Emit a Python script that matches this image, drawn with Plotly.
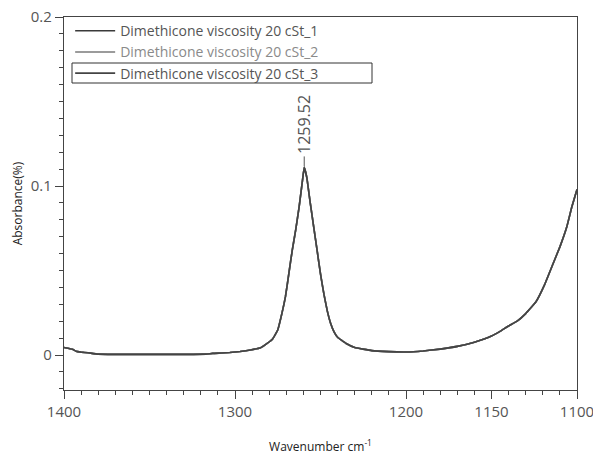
import plotly.graph_objects as go

# ---- data ----
wavenumber = [1400, 1397, 1395, 1393, 1390, 1386, 1380, 1370, 1350, 1330, 1317, 1313, 1308,
              1303, 1297, 1291, 1285, 1281, 1278, 1275, 1272.5, 1270.5, 1268.5, 1266.5,
              1264.5, 1262.5, 1260.5, 1259.52, 1258, 1256, 1254, 1252, 1250, 1248, 1246,
              1244, 1242, 1240, 1235, 1230, 1220, 1210, 1200, 1190, 1180, 1170, 1160, 1150,
              1145, 1140, 1135, 1130, 1124, 1119, 1114, 1110, 1106, 1103, 1100]
absorbance_1 = [0.0045, 0.0038, 0.0034, 0.0022, 0.0017, 0.0013, 0.0005, 0.0004, 0.0004, 0.0004,
                0.0005, 0.0010, 0.0012, 0.0015, 0.0021, 0.0030, 0.0043, 0.0070, 0.0095, 0.0148,
                0.0249, 0.0345, 0.0483, 0.0621, 0.0740, 0.0877, 0.1036, 0.1110, 0.1050, 0.0900,
                0.0760, 0.0620, 0.0480, 0.0360, 0.0260, 0.0185, 0.0135, 0.0105, 0.0068, 0.0045,
                0.0026, 0.0020, 0.0018, 0.0024, 0.0035, 0.0051, 0.0076, 0.0112, 0.0140, 0.0172,
                0.0200, 0.0245, 0.0315, 0.0415, 0.0540, 0.0640, 0.0757, 0.0877, 0.0980]
absorbance_2 = list(absorbance_1)
absorbance_3 = list(absorbance_1)

series_names = ["Dimethicone viscosity 20 cSt_1",
                "Dimethicone viscosity 20 cSt_2",
                "Dimethicone viscosity 20 cSt_3"]
peak_wavenumber = 1259.52
peak_absorbance = 0.1110
peak_label = "1259.52"

x_tickvals = [1400, 1300, 1200, 1150, 1100]
x_ticktext = ["1400", "1300", "1200", "1150", "1100"]
y_tickvals = [0, 0.1, 0.2]
y_ticktext = ["0", "0.1", "0.2"]

FONT = "Open Sans"
line_colors = ["#3a3a3a", "#7a7a7a", "#444444"]
legend_names = [series_names[0],
                "<span style='color:#8a8a8a'>" + series_names[1] + "</span>",
                series_names[2]]

fig = go.Figure()
for ys, c, nm in zip([absorbance_1, absorbance_2, absorbance_3], line_colors, legend_names):
    fig.add_trace(go.Scatter(x=wavenumber, y=ys, mode="lines", name=nm,
                             line=dict(color=c, width=1.6, shape="spline", smoothing=0.3)))

# peak marker line + label
fig.add_shape(type="line", xref="x", yref="y", x0=peak_wavenumber, x1=peak_wavenumber,
              y0=peak_absorbance + 0.0005, y1=peak_absorbance + 0.0065,
              line=dict(color="#555", width=1))
fig.add_annotation(x=peak_wavenumber, y=peak_absorbance + 0.0066, xref="x", yref="y",
                   text=peak_label, textangle=-90, showarrow=False,
                   yanchor="bottom", xanchor="center",
                   font=dict(family=FONT, size=16, color="#555"))

# box around third legend entry
fig.add_shape(type="rect", xref="paper", yref="paper",
              x0=(72 - 64) / 513, x1=(372 - 64) / 513,
              y0=(390 - 83) / 373, y1=(390 - 63) / 373,
              line=dict(color="#333", width=1))

fig.update_layout(
    width=593, height=455,
    margin=dict(l=64, r=16, t=17, b=65, autoexpand=False),
    paper_bgcolor="white", plot_bgcolor="white",
    font=dict(family=FONT, color="#555"),
    showlegend=True,
    legend=dict(x=0.012, y=1.005, xanchor="left", yanchor="top",
                bgcolor="rgba(0,0,0,0)", borderwidth=0,
                font=dict(family=FONT, size=14, color="#555"),
                tracegroupgap=0, itemwidth=40),
)
fig.update_xaxes(
    range=[1400, 1100], showgrid=False, zeroline=False, automargin=False,
    showline=True, linecolor="#444", linewidth=1.2, mirror=True,
    ticks="outside", ticklen=8, tickcolor="#444",
    tickvals=x_tickvals, ticktext=x_ticktext, ticklabeloverflow="allow",
    tickfont=dict(family=FONT, size=15, color="#555"),
    minor=dict(dtick=10, tick0=1100, ticks="outside", ticklen=4, tickcolor="#444"),
    title=dict(text="Wavenumber cm<sup>-1</sup>", font=dict(family=FONT, size=12, color="#222"),
               standoff=22),
)
fig.update_yaxes(
    range=[-0.0207, 0.2], showgrid=False, zeroline=False, automargin=False,
    showline=True, linecolor="#444", linewidth=1.2, mirror=True,
    ticks="outside", ticklen=8, tickcolor="#444",
    tickvals=y_tickvals, ticktext=y_ticktext, ticklabeloverflow="allow",
    tickfont=dict(family=FONT, size=15, color="#555"),
    minor=dict(dtick=0.01, tick0=0, ticks="outside", ticklen=4, tickcolor="#444"),
    title=dict(text="Absorbance(%)", font=dict(family=FONT, size=12, color="#222"),
               standoff=5),
)

fig.write_html("out.html")
